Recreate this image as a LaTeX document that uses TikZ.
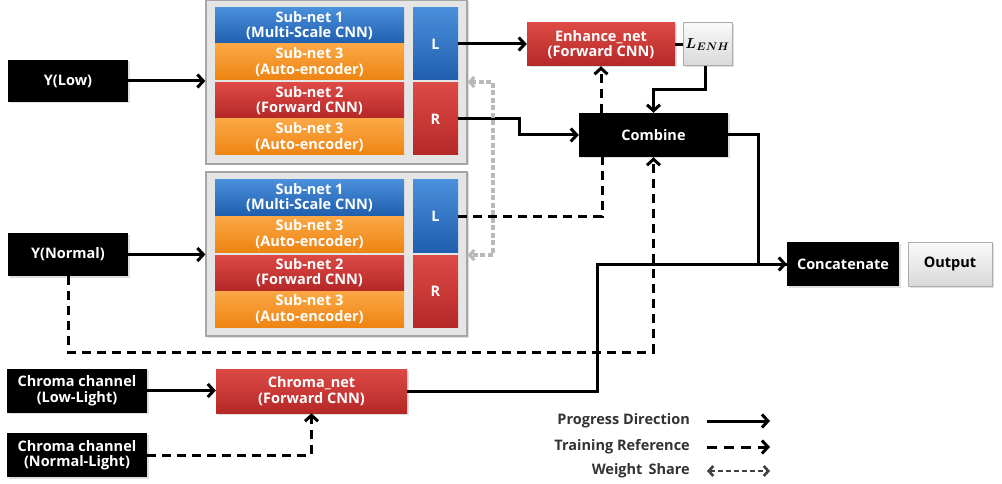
\documentclass[tikz,border=0pt]{standalone}
\usepackage{amsmath}
\usepackage{fontspec}
\setmainfont{Open Sans}
\usetikzlibrary{arrows.meta,shadows,calc}
\definecolor{bluetop}{HTML}{4A8FDB}
\definecolor{bluebot}{HTML}{1F5FAE}
\definecolor{orgtop}{HTML}{FBA845}
\definecolor{orgbot}{HTML}{EE8412}
\definecolor{redtop}{HTML}{DD4A45}
\definecolor{redbot}{HTML}{B52828}
\definecolor{txtgray}{HTML}{333333}
\tikzset{
  base/.style={rectangle, inner sep=0pt, align=center, font=\fontsize{14.5}{15.5}\selectfont\bfseries},
  shad/.style={drop shadow={opacity=0.25, shadow xshift=1.5pt, shadow yshift=-1.5pt}},
  bluebox/.style={base, top color=bluetop, bottom color=bluebot, text=white},
  orgbox/.style={base, top color=orgtop, bottom color=orgbot, text=white},
  redbox/.style={base, top color=redtop, bottom color=redbot, text=white},
  blackbox/.style={base, fill=black, text=white, shad},
  graybox/.style={rectangle, inner sep=0pt, fill=gray!20, draw=gray!70, line width=1.2pt, shad},
  lightbox/.style={base, top color=gray!4, bottom color=gray!30, draw=gray!65, line width=1pt, text=black, shad},
  legtext/.style={base, text=txtgray, anchor=east},
  flow/.style={line width=3pt, -{Straight Barb[length=6pt,width=13pt]}},
  plain/.style={line width=3pt},
  train/.style={line width=3pt, dash pattern=on 9pt off 6pt},
  trainarrow/.style={train, -{Straight Barb[length=6pt,width=13pt]}},
  wshare/.style={line width=3.2pt, draw=gray!55, dash pattern=on 5pt off 2.5pt, {Straight Barb[length=4.5pt,width=10pt]}-{Straight Barb[length=4.5pt,width=10pt]}},
  wsharelegend/.style={line width=2.6pt, draw=black!75, dash pattern=on 5pt off 3pt, {Straight Barb[length=4.5pt,width=10pt]}-{Straight Barb[length=4.5pt,width=10pt]}},
}
\newcommand\netblock[2]{%
  \node[graybox, minimum width=261pt, minimum height=164pt] (#1box) at (336.5,{82+#2}) {};
  \node[bluebox, minimum width=189pt, minimum height=35pt] (#1sA) at (309.5,{25.5+#2}) {Sub-net 1\\(Multi-Scale CNN)};
  \node[orgbox, minimum width=189pt, minimum height=36pt] (#1sB) at (309.5,{62+#2}) {Sub-net 3\\(Auto-encoder)};
  \node[redbox, minimum width=189pt, minimum height=35pt] (#1sC) at (309.5,{100.5+#2}) {Sub-net 2\\(Forward CNN)};
  \node[orgbox, minimum width=189pt, minimum height=36pt] (#1sD) at (309.5,{137+#2}) {Sub-net 3\\(Auto-encoder)};
  \node[bluebox, minimum width=45pt, minimum height=72pt] (#1L) at (435.5,{44+#2}) {L};
  \node[redbox, minimum width=45pt, minimum height=72pt] (#1R) at (435.5,{119+#2}) {R};
}
\begin{document}
\begin{tikzpicture}[x=1pt,y=-1pt]
\fill[white] (0,0) rectangle (1002,484);
\useasboundingbox (0,0) rectangle (1002,484);

\netblock{t}{0}
\netblock{b}{172}

\node[blackbox, minimum width=120pt, minimum height=42pt] (ylow) at (68,81) {Y(Low)};
\node[blackbox, minimum width=120pt, minimum height=43pt] (ynorm) at (68,254.5) {Y(Normal)};
\node[blackbox, minimum width=140pt, minimum height=44pt] (chl) at (77,390.5) {Chroma channel\\(Low-Light)};
\node[blackbox, minimum width=140pt, minimum height=44pt] (chn) at (77,455) {Chroma channel\\(Normal-Light)};
\node[redbox, shad, minimum width=191pt, minimum height=44pt] (chnet) at (311.5,391) {Chroma\_net\\(Forward CNN)};
\node[redbox, shad, minimum width=148pt, minimum height=43pt] (enh) at (601,44.5) {Enhance\_net\\(Forward CNN)};
\node[lightbox, minimum width=49pt, minimum height=43pt, font=\fontsize{15}{16}\selectfont] (lenh) at (707.5,44.5) {$\boldsymbol{L_{ENH}}$};
\node[blackbox, minimum width=149pt, minimum height=44pt] (comb) at (653.5,135) {Combine};
\node[blackbox, minimum width=112pt, minimum height=44pt] (concat) at (843,264) {Concatenate};
\node[lightbox, minimum width=84pt, minimum height=44pt] (out) at (950,264) {Output};

% bends
\coordinate (k1) at (602,216);
\coordinate (k2) at (68,352);
\coordinate (k3) at (705,90);
\coordinate (k4) at (519,119);
\coordinate (k5) at (758,135);
\coordinate (k6) at (597,391);
\coordinate (w1) at (493,82);
\coordinate (w2) at (493,255);

% connectors
\draw[flow] (ylow.east) -- (ylow.east -| tbox.west);
\draw[flow] (ynorm.east) -- (ynorm.east -| bbox.west);
\draw[flow] (tL.east) -- (tL.east -| enh.west);
\draw[plain] (enh.east) -- (lenh.west);
\draw[flow] (lenh.south -| k3) -- (k3) -| (comb.north);
\draw[flow] (tR.east) -- (k4) |- (comb.west);
\draw[trainarrow] (enh.south |- comb.north) -- (enh.south);
\draw[train] (bL.east) -- (k1) -- (k1 |- comb.south);
\draw[trainarrow] (ynorm.south) -- (k2) -| (comb.south);
\draw[plain] (chnet.east) -- (k6) |- (concat.west);
\draw[flow] (comb.east) -- (k5) |- (concat.west);
\draw[flow] (chl.east) -- (chl.east -| chnet.west);
\draw[trainarrow] (chn.east) -| (chnet.south);
\draw[wshare] (w1 -| tbox.east) -- (w1) -- (w2) -- (w2 -| bbox.east);

% legend
\node[legtext] (lg1) at (690,421) {Progress Direction};
\node[legtext] (lg2) at (690,447) {Training Reference};
\node[legtext] (lg3) at (690,471) {Weight\, Share};
\coordinate (la1) at (707,421); \coordinate (lb1) at (770,421);
\coordinate (la2) at (707,447); \coordinate (lb2) at (770,447);
\coordinate (la3) at (707,471); \coordinate (lb3) at (770,471);
\draw[flow] (la1) -- (lb1);
\draw[line width=3pt, dash pattern=on 10pt off 7pt, -{Straight Barb[length=6pt,width=13pt]}] (la2) -- (lb2);
\draw[wsharelegend] (la3) -- (lb3);
\end{tikzpicture}
\end{document}
